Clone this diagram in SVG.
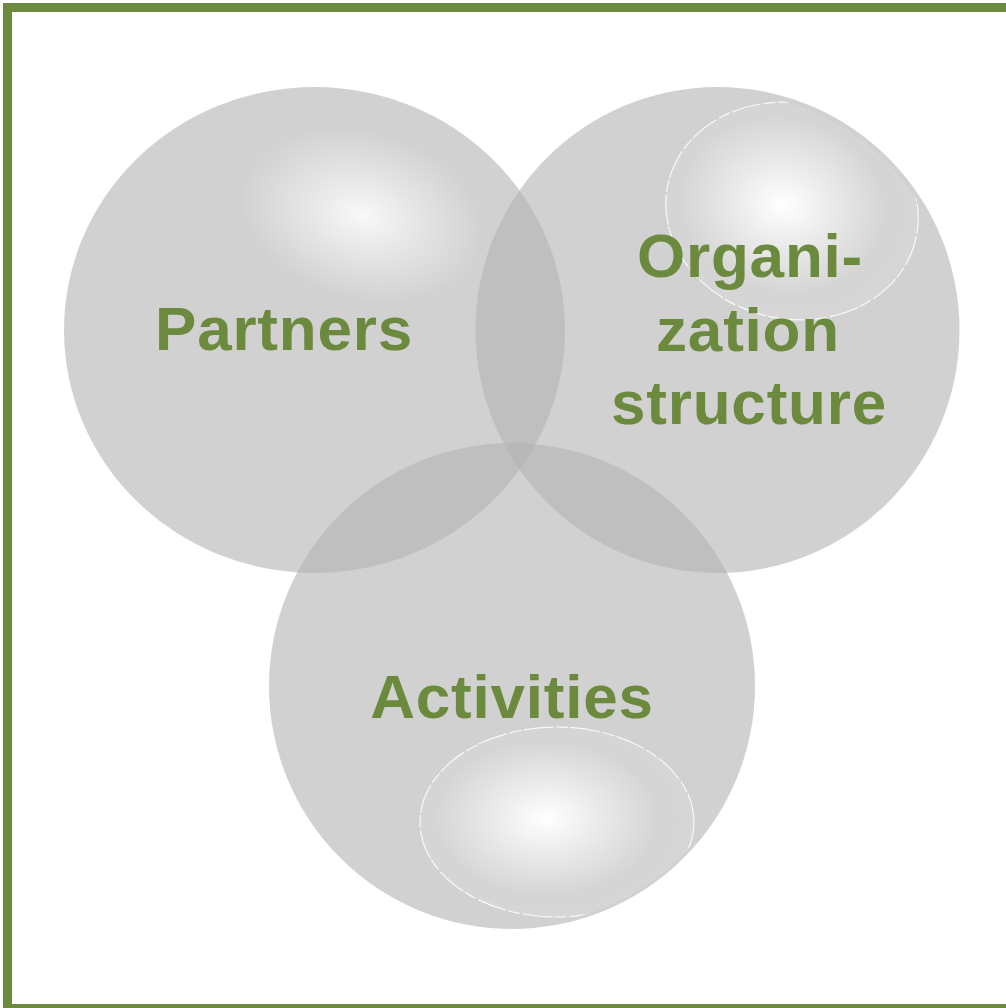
<svg xmlns="http://www.w3.org/2000/svg" width="1006" height="1008" viewBox="0 0 1006 1008">
<style>
.bubble{fill:#b3b3b3;fill-opacity:0.61;}
.lbl{font-family:"Liberation Sans",Arial,sans-serif;font-weight:bold;font-size:62px;fill:#6b8a3d;text-anchor:middle;letter-spacing:0.8px;}
.gloss{stroke:#ffffff;stroke-width:1.2;stroke-opacity:0.85;stroke-dasharray:30 3 12 2;}
</style>
<defs>
<radialGradient id="soft" cx="0.5" cy="0.5" r="0.5">
<stop offset="0" stop-color="#ffffff" stop-opacity="0.85"/>
<stop offset="0.45" stop-color="#ffffff" stop-opacity="0.45"/>
<stop offset="1" stop-color="#ffffff" stop-opacity="0"/>
</radialGradient>
<radialGradient id="shine" cx="0.46" cy="0.48" r="0.55">
<stop offset="0" stop-color="#ffffff" stop-opacity="1"/>
<stop offset="0.35" stop-color="#ffffff" stop-opacity="0.55"/>
<stop offset="0.75" stop-color="#ffffff" stop-opacity="0.08"/>
<stop offset="1" stop-color="#ffffff" stop-opacity="0.12"/>
</radialGradient>
<clipPath id="orgClip"><circle cx="717.5" cy="330" r="238"/></clipPath>
<clipPath id="actClip"><circle cx="512" cy="686" r="240"/></clipPath>
</defs>
<rect x="7.5" y="7.5" width="1004" height="1001" fill="#ffffff" stroke="#6b8a3d" stroke-width="9"/>
<g id="node-partners">
<ellipse class="bubble" cx="314.5" cy="330" rx="250.5" ry="243"/>
<ellipse cx="362" cy="215" rx="125" ry="85" fill="url(#soft)" transform="rotate(15 362 215)"/>
<text class="lbl" x="284" y="350">Partners</text>
</g>
<g id="node-organization">
<ellipse class="bubble" cx="717.5" cy="330" rx="242" ry="243"/>
<g clip-path="url(#orgClip)">
<ellipse class="gloss" cx="792" cy="211" rx="127" ry="108" fill="url(#shine)" transform="rotate(12 792 211)"/>
</g>
<text class="lbl" x="750" y="277">Organi-</text>
<text class="lbl" x="748" y="351">zation</text>
<text class="lbl" x="749" y="424">structure</text>
</g>
<g id="node-activities">
<ellipse class="bubble" cx="512" cy="686" rx="243" ry="243"/>
<g clip-path="url(#actClip)">
<ellipse class="gloss" cx="557" cy="822" rx="137" ry="95" fill="url(#shine)"/>
</g>
<text class="lbl" x="512" y="718">Activities</text>
</g>
<g id="connectors"></g>
</svg>
